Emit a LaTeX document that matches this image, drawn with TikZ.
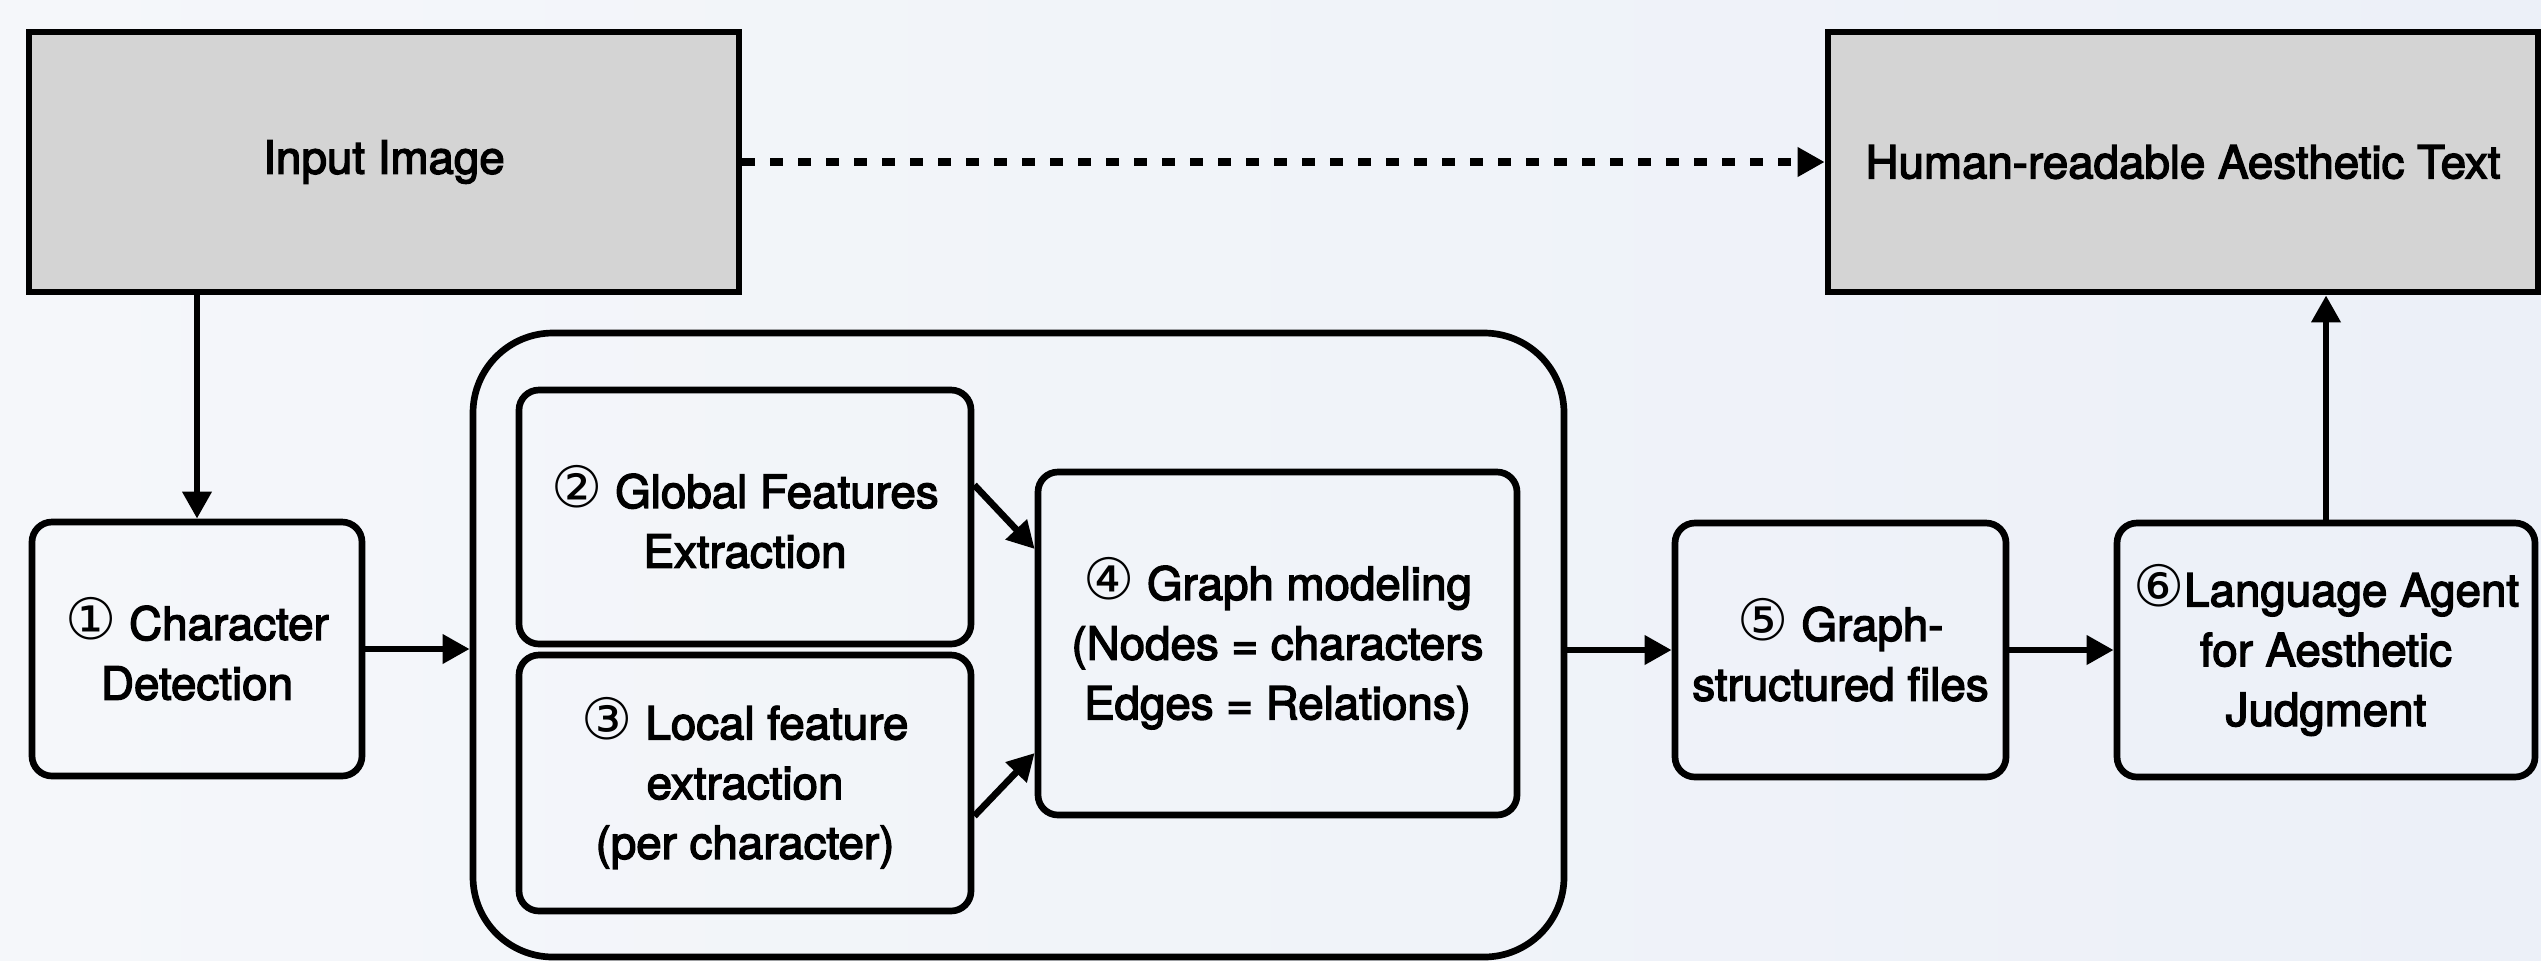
\documentclass[tikz,border=0pt]{standalone}
\usepackage{fontspec}
\setmainfont{TeX Gyre Heros}[FakeBold=3]
\newfontfamily\numfont{DejaVu Sans}[Scale=1.25]
\usetikzlibrary{arrows.meta}
\newcommand{\stepno}[1]{{\numfont #1}}
\definecolor{bgleft}{RGB}{245,247,250}
\definecolor{bgright}{RGB}{236,240,248}
\definecolor{boxgray}{RGB}{212,212,212}

\begin{document}
\begin{tikzpicture}[
    every node/.style={font=\fontsize{13}{17}\selectfont, align=center},
    ioblock/.style={draw, fill=boxgray, line width=1.9pt, minimum width=7.1cm, minimum height=2.6cm},
    stage/.style={draw, rounded corners=0.2cm, line width=1.9pt, inner sep=0pt},
    flow/.style={line width=1.9pt, -{Triangle[length=0.27cm,width=0.28cm]}},
    ]
    % background
    \useasboundingbox (0,0) rectangle (25.41,9.60);
    \shade[left color=bgleft, right color=bgright] (0,0) rectangle (25.41,9.60);

    % input and output
    \node[ioblock] (input) at (3.84,7.98) {Input Image};
    \node[ioblock] (output) at (21.83,7.98) {Human-readable Aesthetic Text};

    % feature extraction group
    \node[draw, rounded corners=0.8cm, line width=1.9pt, minimum width=10.91cm, minimum height=6.24cm]
        (group) at (10.185,3.15) {};

    % pipeline stages
    \node[stage, minimum width=3.30cm, minimum height=2.54cm] (detect) at (1.97,3.11)
        {\stepno{①} Character\\Detection};
    \node[stage, minimum width=4.52cm, minimum height=2.54cm] (global) at (7.45,4.43)
        {\stepno{②} Global Features\\Extraction};
    \node[stage, minimum width=4.52cm, minimum height=2.56cm] (local) at (7.45,1.77)
        {\stepno{③} Local feature\\extraction\\(per character)};
    \node[stage, minimum width=4.79cm, minimum height=3.43cm] (graph) at (12.775,3.165)
        {\stepno{④} Graph modeling\\(Nodes = characters\\Edges = Relations)};
    \node[stage, minimum width=3.31cm, minimum height=2.54cm] (files) at (18.405,3.10)
        {\stepno{⑤} Graph-\\structured files};
    \node[stage, minimum width=4.18cm, minimum height=2.54cm] (agent) at (23.26,3.10)
        {\stepno{⑥}Language Agent\\for Aesthetic\\Judgment};

    % connectors
    \draw[flow, line width=2.1pt, dash pattern=on 0.13cm off 0.15cm] (input.east) -- (output.west);
    \draw[flow] (input.south -| detect.north) -- (detect.north);
    \draw[flow] (detect.east) -- (detect.east -| group.west);
    \draw[flow] ([yshift=0.32cm]global.east) -- ([yshift=0.945cm]graph.west);
    \draw[flow] ([yshift=-0.33cm]local.east) -- ([yshift=-1.095cm]graph.west);
    \draw[flow] (files.west -| group.east) -- (files.west);
    \draw[flow] (files.east) -- (agent.west);
    \draw[flow] (agent.north) -- (agent.north |- output.south);
\end{tikzpicture}
\end{document}
